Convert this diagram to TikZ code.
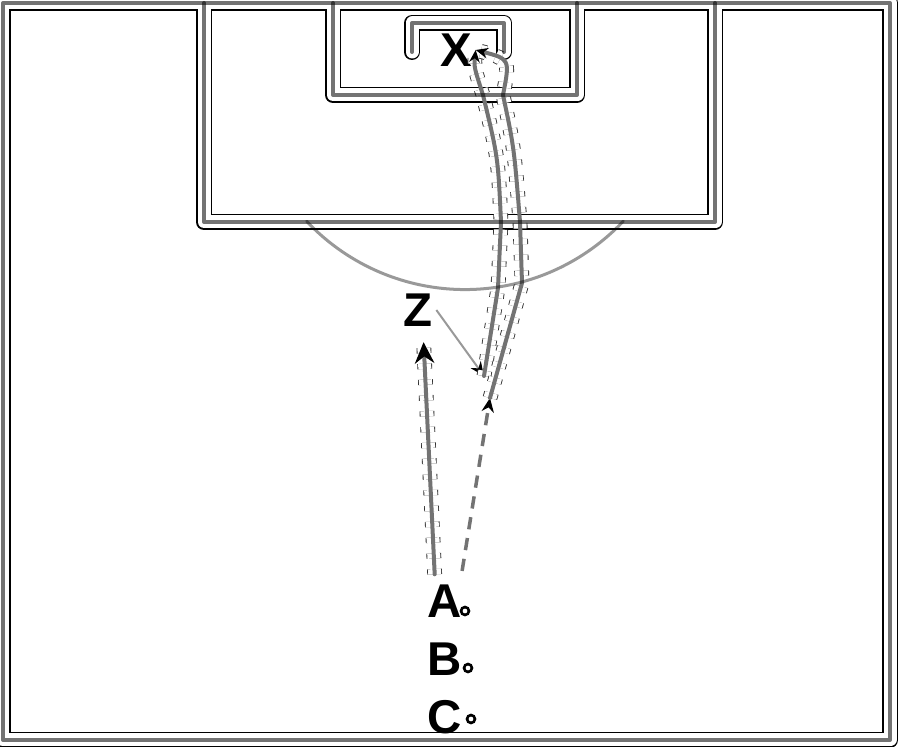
\documentclass[tikz,border=0pt]{standalone}
\usepackage{fontspec}
\setmainfont{Liberation Sans}
\usetikzlibrary{arrows.meta}
\tikzstyle{outline} = [draw=black, line width=0.32cm, line cap=round, line join=round]
\tikzstyle{band} = [draw=white, line width=0.26cm, line cap=round, line join=round]
\tikzstyle{chalk} = [draw=black, draw opacity=0.55, line width=0.08cm, line cap=round, line join=round]
\tikzstyle{runline} = [draw=black!55, line width=0.08cm, line cap=round, preaction={-, draw=black!80, line width=0.5pt, line cap=butt, double=white, double distance=0.26cm, dash pattern=on 3pt off 6pt}]
\tikzstyle{passline} = [draw=black!40, line width=0.04cm]
\tikzstyle{player} = [font=\fontsize{27}{30}\selectfont\bfseries, inner sep=2pt]
\tikzstyle{marker} = [circle, draw=black, line width=1.5pt, fill=white, minimum size=4.5pt, inner sep=0pt]
\newcommand\pitchedge{(3,7) rectangle (890,744)}
\newcommand\penaltybox{(204,744) |- (715,525) -- (715,744)}
\newcommand\goalbox{(333,744) |- (577,652) -- (577,744)}
\newcommand\goalframe{(412,695) |- (504,724) -- (504,695)}
\newcommand\penaltyarc{(306.6,525.8) arc[start angle=223.3, end angle=316.7, radius=217.6]}
\begin{document}
\begin{tikzpicture}[x=0.02cm, y=0.02cm, node distance=1.16cm]
\useasboundingbox (0,0) rectangle (900,747);
% pitch markings: outlines first, chalk on top at the end
\foreach \pass in {outline, band}
  \draw[\pass] \pitchedge \penaltybox \goalbox \goalframe;

\node (X) [player] at (456,697) {X};
\node (Z) [player] at (418,437) {Z};
\node (A) [player] at (445,146) {A};
\node (B) [player, below of=A] {B};
\node (C) [player, below of=B] {C};
\node (Adot) [marker] at (465,136) {};
\node (Bdot) [marker] at (468,79) {};
\node (Cdot) [marker] at (471,28) {};
\coordinate (P1) at (484,371);
\coordinate (P2) at (490,349);

% A runs up to Z, Z plays it into the box, A shoots from outside
\draw[runline, -{Stealth[length=12pt, width=11pt, color=black]}, shorten <=0.13cm, shorten >=0.24cm] ([xshift=-0.2cm]A.north) -- ([xshift=0.1cm]Z.south);
\draw[passline, -{Stealth[length=8pt, width=7pt, color=black]}] (Z.east) -- (P1);
\draw[draw=black!55, line width=0.07cm, dash pattern=on 7pt off 5pt, -{Stealth[length=8pt, width=7pt, color=black]}, shorten <=0.2cm] ([xshift=-0.11cm]A.north east) -- (P2);
\draw[runline, -{Stealth[length=7pt, width=6pt, color=black]}] (P1) -- (498,459) -- (501,525) .. controls (498,590) .. (483,652) .. controls (474,680) .. (X.east);
\draw[runline, -{Stealth[length=7pt, width=6pt, color=black]}] (P2) -- (522,464) -- (520,525) .. controls (514,600) .. (503,652) .. controls (510,688) .. (X.east);

\foreach \part in {\pitchedge, \penaltybox, \goalbox, \goalframe}
  \draw[chalk] \part;
\draw[chalk, draw opacity=0.4, line width=0.06cm] \penaltyarc;
\end{tikzpicture}
\end{document}
